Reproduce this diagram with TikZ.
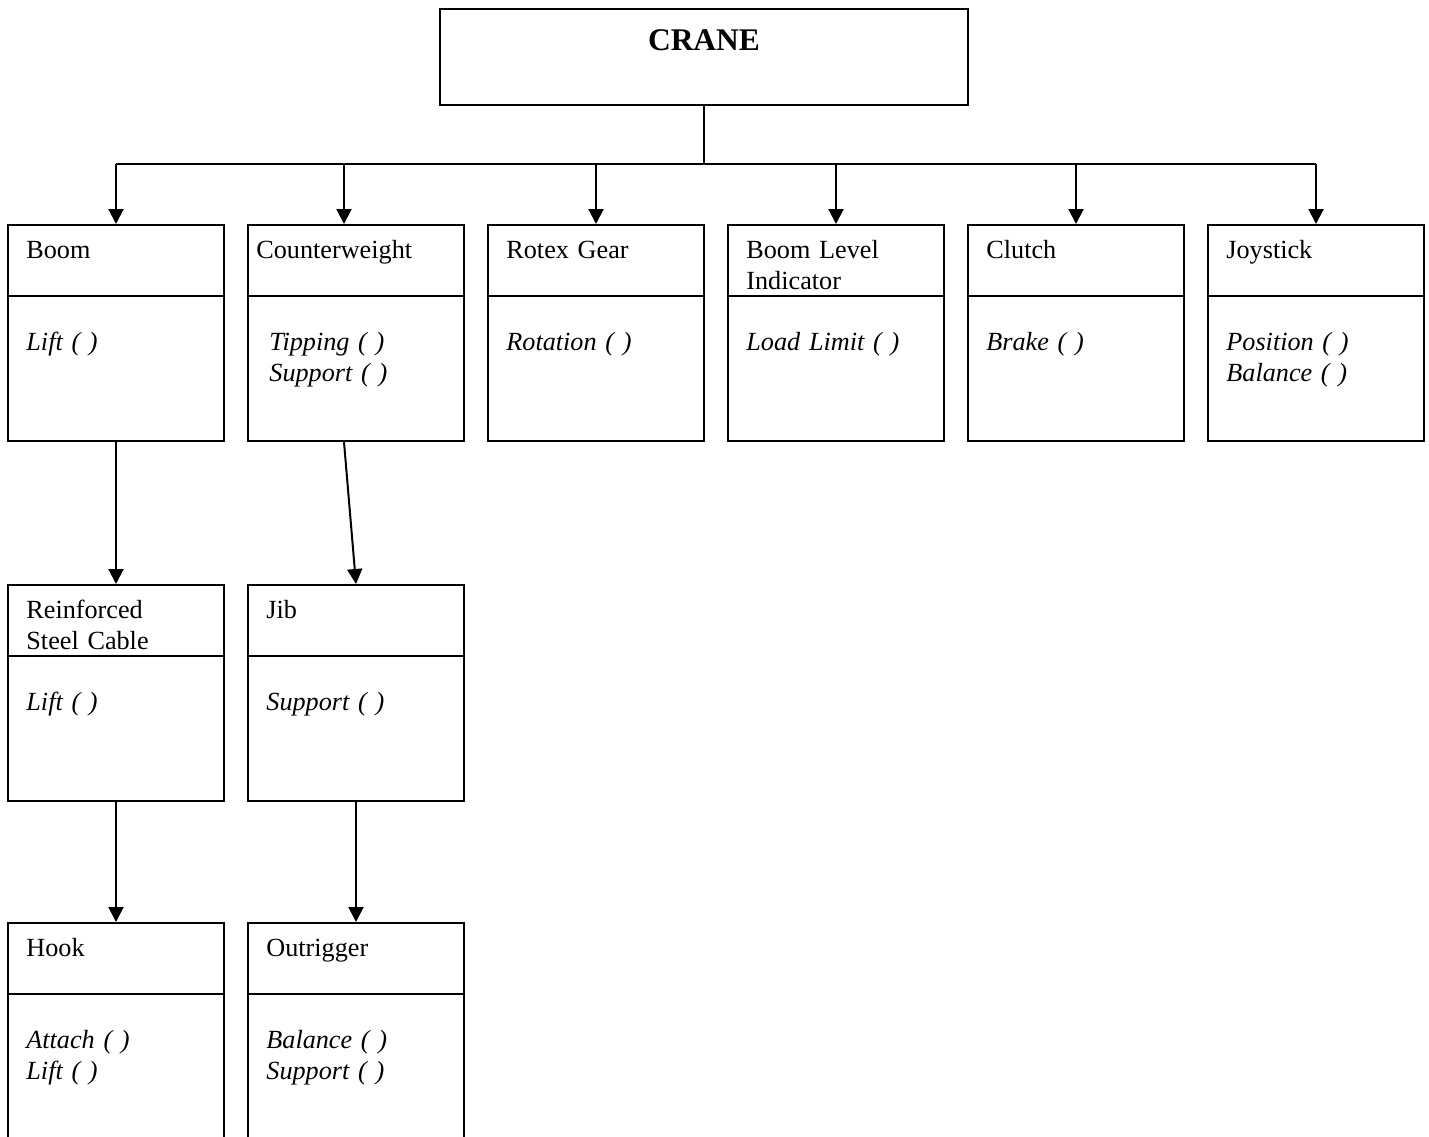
\documentclass[tikz,border=0pt]{standalone}
\usepackage{fontspec}
\setmainfont{Liberation Serif}
\usetikzlibrary{positioning, arrows.meta, calc}

\tikzset{
	classbox/.style={draw, line width=1pt, minimum width=108pt, minimum height=108pt, inner sep=0pt},
	titletext/.style={anchor=base west, inner sep=0pt, text width=100pt, align=left},
	methodtext/.style={anchor=base west, inner sep=0pt, text width=100pt, align=left, font=\fontsize{13.1}{15.5}\selectfont\itshape},
	link/.style={line width=1pt},
	arr/.style={line width=1pt, -{Triangle[length=7.5pt,width=7.5pt]}}
}

% box with a title part and a method part
\newcommand{\classpart}[5]{%
	\node[classbox] (#1) at (#2) {};
	\draw[link] ([yshift=-36pt]#1.north west) -- ([yshift=-36pt]#1.north east);
	\node[titletext] (#1T) at ([xshift=9.5pt,yshift=-17pt]#1.north west) {#3};
	\node[methodtext] (#1M) at ([xshift=#4,yshift=-63pt]#1.north west) {#5};
}

\begin{document}
\begin{tikzpicture}[x=0.5pt, y=-0.5pt, font=\fontsize{13.1}{15.5}\selectfont]
	\useasboundingbox (0,0) rectangle (1429,1136);
	\clip (0,0) rectangle (1429,1136);

	% top box
	\node[draw, line width=1pt, minimum width=264pt, minimum height=48pt] (crane) at (704,57) {};
	\node[anchor=base, inner sep=0pt, font=\fontsize{15.75}{18}\selectfont\bfseries] (craneT) at (704,50) {CRANE};

	% first row
	\classpart{boom}{116,333}{Boom}{9.5pt}{Lift ( )}
	\node[classbox] (cw) at (356,333) {};
	\draw[link] ([yshift=-36pt]cw.north west) -- ([yshift=-36pt]cw.north east);
	\node[titletext] (cwT) at ([xshift=4.5pt,yshift=-17pt]cw.north west) {Counterweight};
	\node[methodtext] (cwM) at ([xshift=11pt,yshift=-63pt]cw.north west) {Tipping ( )\\Support ( )};
	\classpart{rotex}{596,333}{Rotex Gear}{9.5pt}{Rotation ( )}
	\classpart{level}{836,333}{Boom Level\\Indicator}{9.5pt}{Load Limit ( )}
	\classpart{clutch}{1076,333}{Clutch}{9.5pt}{Brake ( )}
	\classpart{joy}{1316,333}{Joystick}{9.5pt}{Position ( )\\Balance ( )}

	% second row
	\classpart{cable}{116,693}{Reinforced\\Steel Cable}{9.5pt}{Lift ( )}
	\classpart{jib}{356,693}{Jib}{9.5pt}{Support ( )}

	% third row
	\classpart{hook}{116,1031}{Hook}{9.5pt}{Attach ( )\\Lift ( )}
	\classpart{out}{356,1031}{Outrigger}{9.5pt}{Balance ( )\\Support ( )}

	% connectors
	\coordinate (bus) at (704,164);
	\coordinate (cwin) at ([xshift=-6pt]cw.north);
	\coordinate (cwout) at ([xshift=-6pt]cw.south);
	\draw[link] (crane.south) -- (bus);
	\draw[link] (bus -| boom.north) -- (bus -| joy.north);
	\foreach \b in {boom, rotex, level, clutch, joy}
		\draw[arr] (bus -| \b.north) -- (\b.north);
	\draw[arr] (bus -| cwin) -- (cwin);
	\draw[arr] (boom.south) -- (cable.north);
	\draw[arr] (cwout) -- (jib.north);
	\draw[arr] (cable.south) -- (hook.north);
	\draw[arr] (jib.south) -- (out.north);
\end{tikzpicture}
\end{document}
